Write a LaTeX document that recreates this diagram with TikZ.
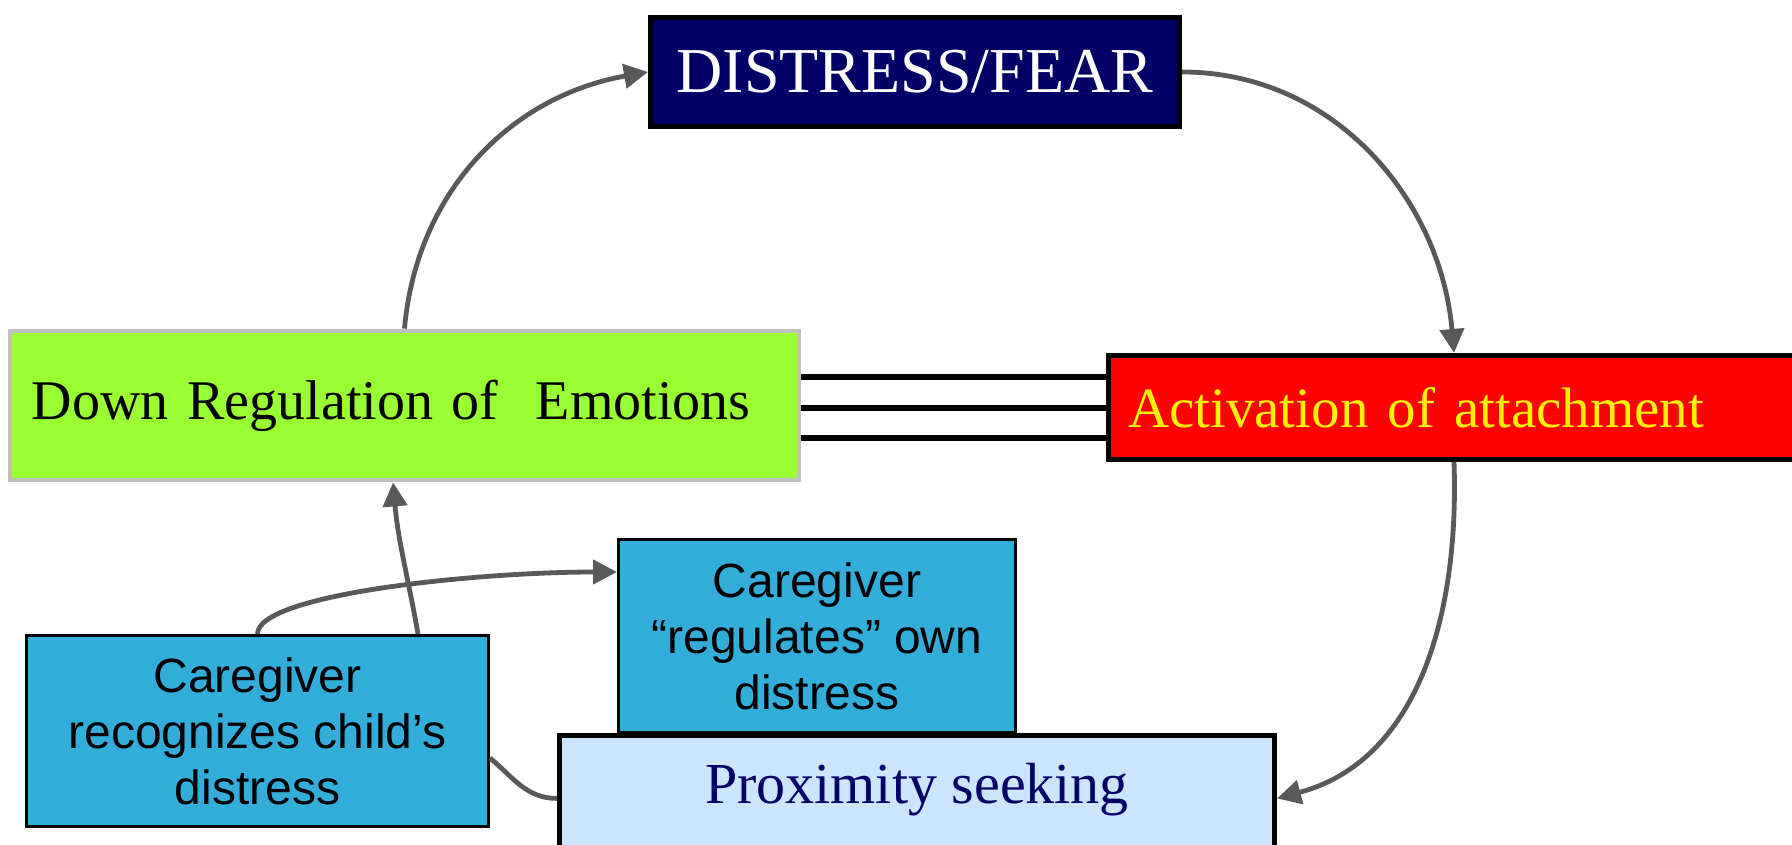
\documentclass[tikz,border=0pt]{standalone}
\usepackage{fontspec}
\setmainfont{Liberation Serif}
\setsansfont{Liberation Sans}
\definecolor{FearNavy}{HTML}{000066}
\definecolor{DownGreen}{HTML}{99FF33}
\definecolor{CareBlue}{HTML}{33AEDB}
\definecolor{SeekBlue}{HTML}{CCE5FF}
\definecolor{LinkGrey}{HTML}{595959}
\usetikzlibrary{arrows.meta}

\begin{document}
\begin{tikzpicture}[x=0.5pt,y=-0.5pt,>={Triangle[length=12pt,width=12pt]},
  link/.style={->,line width=2.4pt,LinkGrey},
  carebox/.style={draw,line width=1.5pt,fill=CareBlue,inner sep=0pt,align=center,font=\sffamily\fontsize{24}{28}\selectfont}]
  \useasboundingbox (0,0) rectangle (1792,845);
  \clip (0,0) rectangle (1792,845);
  \node[draw,line width=2.5pt,fill=FearNavy,text=white,minimum width=264.5pt,minimum height=54.5pt,font=\fontsize{32}{36}\selectfont] (fear) at (915,72) {DISTRESS/FEAR};
  \node[draw=black!25,line width=2.4pt,fill=DownGreen,text width=372.5pt,align=left,inner xsep=11pt,minimum height=74.5pt,font=\fontsize{28}{34}\selectfont] (regulation) at (404.5,405.5) {Down Regulation of \ Emotions};
  \node[draw,line width=2.5pt,fill=red,text=yellow,text width=326pt,align=left,inner xsep=9.75pt,minimum height=52pt,font=\fontsize{28.5}{34}\selectfont] (activation) at (1454,407.5) {Activation of attachment};
  \node[carebox,minimum width=198.5pt,minimum height=96.5pt] (regulates) at (817,636) {Caregiver\\“regulates” own\\distress};
  \node[carebox,minimum width=231pt,minimum height=95.5pt] (recognizes) at (257.5,731) {Caregiver\\recognizes child’s\\distress};
  \node[draw,line width=2.5pt,fill=SeekBlue,text=FearNavy,minimum width=357.5pt,inner ysep=0pt,text height=33.75pt,text depth=60pt,anchor=north,font=\fontsize{29}{34}\selectfont] (proximity) at (917,733) {Proximity seeking};
  % cycle
  \draw[link] (regulation.north) to[out=85,in=190] (fear.west);
  \draw[link] (fear.east) to[out=0,in=95] (activation.north);
  \draw[link] (activation.south) to[out=-88,in=15] (proximity.mid east);
  % caregiver side
  \draw[link] ([xshift=80.25pt]recognizes.north) to[out=100,in=-85] ([xshift=-5.75pt]regulation.south);
  \draw[link] (recognizes.north) to[out=90,in=180,out distance=20pt,in distance=70pt] ([yshift=32pt]regulates.west);
  \draw[line width=2.4pt,LinkGrey] ([yshift=-13.5pt]recognizes.east) to[out=-40,in=180] (proximity.mid west);
  \foreach \dy in {14.25,-1.25,-16.25}
    \draw[line width=2.8pt] ([yshift=\dy pt]regulation.east) -- ([yshift=\dy pt]regulation.east -| activation.west);
\end{tikzpicture}
\end{document}
